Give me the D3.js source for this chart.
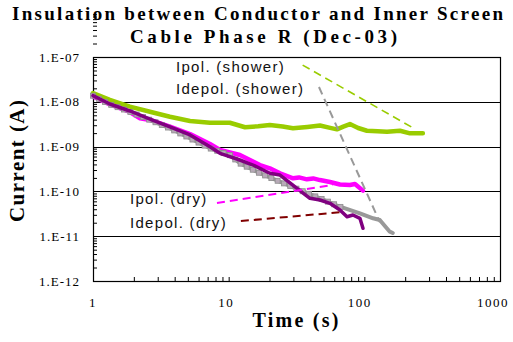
<!DOCTYPE html>
<html>
<head>
<meta charset="utf-8">
<script src="https://cdn.jsdelivr.net/npm/d3@7"></script>
<style>
  body { margin: 0; background: #fff; }
  svg { display: block; }
</style>
</head>
<body>
<svg id="chart" width="513" height="342"></svg>
<script>
// --- data ---
const titleLines = ["Insulation between Conductor and Inner Screen", "Cable Phase R (Dec-03)"];
const xTickValues = [1, 10, 100, 1000];
const yTickValues = [1e-7, 1e-8, 1e-9, 1e-10, 1e-11, 1e-12];
const yTickLabels = ["1.E-07", "1.E-08", "1.E-09", "1.E-10", "1.E-11", "1.E-12"];

const polShowerTime = [1, 1.33, 1.87, 2.63, 3.69, 5.19, 7.28, 10.2, 13.2, 16.5, 20.1, 25, 29.8, 38, 47.1, 55, 62.8, 70, 78.3, 90, 104.5, 125, 147, 183, 217, 270];
const polShowerCurrent = [1.57e-8, 1.10e-8, 7.78e-9, 6.01e-9, 4.65e-9, 3.72e-9, 3.41e-9, 3.41e-9, 2.70e-9, 2.85e-9, 3.03e-9, 2.80e-9, 2.56e-9, 2.75e-9, 2.96e-9, 2.65e-9, 2.43e-9, 2.80e-9, 3.19e-9, 2.60e-9, 2.26e-9, 2.20e-9, 2.15e-9, 2.26e-9, 1.98e-9, 1.98e-9];

const depolShowerTime = [1, 1.33, 1.87, 2.63, 3.69, 5.19, 7.28, 10.2, 12.1, 17.0, 23.9, 33.5, 47.1, 66.1, 92.8, 116, 130, 154, 162];
const depolShowerCurrent = [1.37e-8, 8.79e-9, 6.01e-9, 3.93e-9, 2.56e-9, 1.53e-9, 9.16e-10, 6.49e-10, 4.24e-10, 2.54e-10, 1.64e-10, 1.07e-10, 7.02e-11, 4.55e-11, 3.24e-11, 2.51e-11, 2.30e-11, 1.26e-11, 1.18e-11];

const polDryTime = [1, 1.33, 1.87, 2.22, 2.63, 3.69, 5.19, 7.28, 8.63, 12.1, 17.0, 20.1, 23.9, 29.8, 33, 37.7, 42, 47.1, 55.8, 66.1, 78.3, 85.3, 97.7];
const polDryCurrent = [1.32e-8, 8.71e-9, 5.92e-9, 4.29e-9, 3.93e-9, 2.78e-9, 1.91e-9, 1.14e-9, 8.39e-10, 6.49e-10, 3.88e-10, 3.28e-10, 2.54e-10, 1.96e-10, 2.05e-10, 1.86e-10, 1.95e-10, 1.79e-10, 1.62e-10, 1.43e-10, 1.39e-10, 1.46e-10, 1.04e-10];

const depolDryTime = [1, 1.33, 1.87, 2.63, 3.69, 5.19, 7.28, 8.63, 12.1, 15.1, 20.1, 23.9, 31.9, 39.7, 47.1, 55.8, 66.1, 74.5, 82.4, 92.8, 97.7];
const depolDryCurrent = [1.37e-8, 8.93e-9, 6.24e-9, 4.13e-9, 2.74e-9, 1.82e-9, 9.95e-10, 7.08e-10, 5.02e-10, 3.88e-10, 2.54e-10, 2.32e-10, 1.17e-10, 7.02e-11, 6.43e-11, 5.42e-11, 3.85e-11, 2.72e-11, 2.97e-11, 2.51e-11, 1.50e-11];

// leader lines from the labels to the curves: [time, current] pairs
const leaderLabels = ["Ipol. (shower)", "Idepol. (shower)", "Ipol. (dry)", "Idepol. (dry)"];
const leaderStart = [[35.1, 6.6e-8], [46.3, 2.14e-8], [8.2, 5.5e-11], [12.3, 2.18e-11]];
const leaderEnd = [[236, 2.47e-9], [130, 2.07e-11], [58.7, 1.39e-10], [69.5, 3.47e-11]];

// --- layout ---
const plot = { left: 93, right: 500, top: 57, bottom: 281 };
const serif = "'Liberation Serif', 'Times New Roman', serif";
const sans = "'Liberation Sans', Arial, sans-serif";

const svg = d3.select("#chart");

const x = d3.scaleLog().domain([1, 1000]).range([plot.left, plot.right]);
const y = d3.scaleLog().domain([1e-12, 1e-7]).range([plot.bottom, plot.top]);

// minor ticks
const xMinor = [];
for (let d = 1; d < 1000; d *= 10) for (let k = 2; k <= 9; k++) xMinor.push(d * k);
const yMinor = [];
for (let d = 1e-12; d < 1e-7; d *= 10) for (let k = 2; k <= 9; k++) yMinor.push(d * k);

// gridlines
svg.append("g")
  .selectAll("line")
  .data(yTickValues.slice(1, -1))
  .join("line")
  .attr("x1", plot.left).attr("x2", plot.right)
  .attr("y1", d => Math.round(y(d)) + 0.5).attr("y2", d => Math.round(y(d)) + 0.5)
  .attr("stroke", "#000").attr("stroke-width", 1);

// x axis ticks (inside, pointing up)
svg.append("g")
  .attr("transform", `translate(0,${plot.bottom})`)
  .call(d3.axisBottom(x).tickValues(xMinor.concat(xTickValues)).tickSize(-4).tickFormat(""))
  .call(g => g.select(".domain").remove())
  .selectAll("line").attr("stroke", "#000");

// y axis ticks (inside, pointing right)
svg.append("g")
  .attr("transform", `translate(${plot.left},0)`)
  .call(d3.axisLeft(y).tickValues(yMinor).tickSize(-4).tickFormat(""))
  .call(g => g.select(".domain").remove())
  .selectAll("line").attr("stroke", "#000");

// frame
svg.append("rect")
  .attr("x", plot.left + 0.5).attr("y", plot.top + 0.5)
  .attr("width", plot.right - plot.left).attr("height", plot.bottom - plot.top)
  .attr("fill", "none").attr("stroke", "#000").attr("stroke-width", 1.2);

// tick labels (the last one runs off the right edge, as in the original)
svg.append("g")
  .selectAll("text")
  .data(xTickValues)
  .join("text")
  .attr("x", d => x(d) - (String(d).length - 1) * 2.3)
  .attr("y", 307)
  .attr("text-anchor", "middle")
  .attr("font-family", serif).attr("font-size", 13).attr("letter-spacing", 1.5)
  .text(d => d);

svg.append("g")
  .selectAll("text")
  .data(yTickValues)
  .join("text")
  .attr("x", 80)
  .attr("y", d => y(d) + 4.5)
  .attr("text-anchor", "end")
  .attr("font-family", serif).attr("font-size", 13).attr("letter-spacing", 1)
  .text((d, i) => yTickLabels[i]);

// series
const line = d3.line().x(d => x(d[0])).y(d => y(d[1])).curve(d3.curveLinear);
const zip = (t, v) => t.map((d, i) => [d, v[i]]);

const series = [
  { pts: zip(polShowerTime, polShowerCurrent), color: "#99cc00", width: 4.5 },
  { pts: zip(polDryTime, polDryCurrent), color: "#ff00ff", width: 4.5 },
  { pts: zip(depolShowerTime, depolShowerCurrent), color: "#999999", width: 4, squares: true },
  { pts: zip(depolDryTime, depolDryCurrent), color: "#800080", width: 3.5 }
];

const plotG = svg.append("g");
series.forEach(s => {
  const path = plotG.append("path")
    .datum(s.pts)
    .attr("d", line)
    .attr("fill", "none")
    .attr("stroke", s.color)
    .attr("stroke-width", s.width)
    .attr("stroke-linejoin", "round")
    .attr("stroke-linecap", "round");
  if (s.squares) {
    // squares spaced along the curve, like the dense markers in the original
    const node = path.node();
    const len = node.getTotalLength();
    const marks = d3.range(0, len * 0.82, 6.8).map(l => node.getPointAtLength(l));
    plotG.append("g")
      .selectAll("rect")
      .data(marks)
      .join("rect")
      .attr("x", p => p.x - 2.5).attr("y", p => p.y - 2.5)
      .attr("width", 5).attr("height", 5)
      .attr("fill", "#b8aab8").attr("stroke", "#8c8c8c").attr("stroke-width", 0.8);
  }
});

// leader lines
const leaderColors = ["#99cc00", "#999999", "#ff00ff", "#800000"];
const leaderWidths = [1.6, 2, 2, 2];
svg.append("g")
  .selectAll("line")
  .data(leaderStart)
  .join("line")
  .attr("x1", d => x(d[0])).attr("y1", d => y(d[1]))
  .attr("x2", (d, i) => x(leaderEnd[i][0])).attr("y2", (d, i) => y(leaderEnd[i][1]))
  .attr("stroke", (d, i) => leaderColors[i])
  .attr("stroke-width", (d, i) => leaderWidths[i])
  .attr("stroke-dasharray", "8,5");

// labels
const labelPos = [[176, 72], [176, 94], [130, 204], [130, 228]];
svg.append("g")
  .selectAll("text")
  .data(leaderLabels)
  .join("text")
  .attr("x", (d, i) => labelPos[i][0])
  .attr("y", (d, i) => labelPos[i][1])
  .attr("font-family", sans).attr("font-size", 15).attr("letter-spacing", 1.3)
  .attr("fill", "#111")
  .text(d => d);

// titles
svg.append("g")
  .selectAll("text")
  .data(titleLines)
  .join("text")
  .attr("x", (d, i) => [257.5, 263.5][i])
  .attr("y", (d, i) => [19.5, 43][i])
  .attr("text-anchor", "middle")
  .attr("font-family", serif).attr("font-weight", "bold").attr("font-size", 19)
  .attr("textLength", (d, i) => [491, 267][i])
  .attr("lengthAdjust", "spacing")
  .text(d => d);

svg.append("text")
  .attr("x", 295.5).attr("y", 327)
  .attr("text-anchor", "middle")
  .attr("font-family", serif).attr("font-weight", "bold").attr("font-size", 20)
  .attr("textLength", 86).attr("lengthAdjust", "spacing")
  .text("Time (s)");

svg.append("text")
  .attr("transform", "translate(24,161) rotate(-90)")
  .attr("text-anchor", "middle")
  .attr("font-family", serif).attr("font-weight", "bold").attr("font-size", 21)
  .attr("textLength", 122).attr("lengthAdjust", "spacing")
  .text("Current (A)");
</script>
</body>
</html>
